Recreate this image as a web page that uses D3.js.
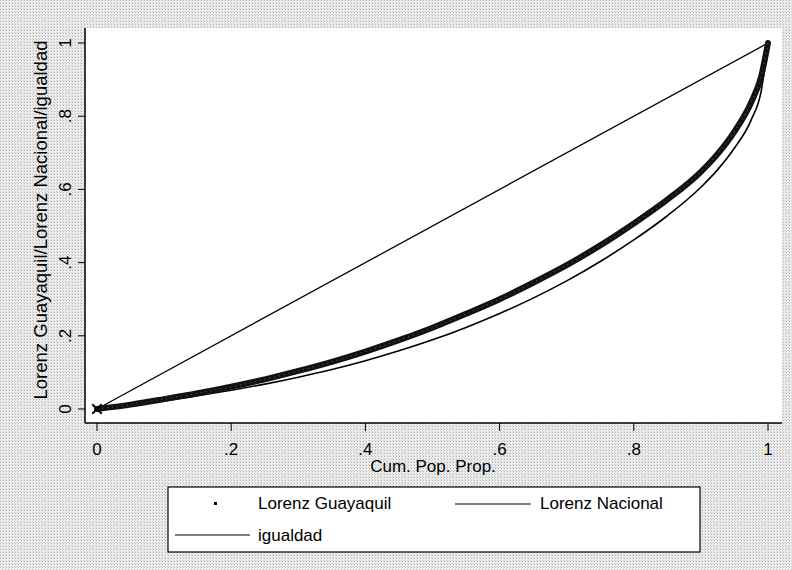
<!DOCTYPE html>
<html>
<head>
<meta charset="utf-8">
<script src="https://cdn.jsdelivr.net/npm/d3@7"></script>
<style>
  body { margin: 0; background: #fff; }
  svg text { font-family: "Liberation Sans", Arial, Helvetica, sans-serif; fill: #000; }
</style>
</head>
<body>
<div id="chart"></div>
<script>
// cumulative population share (x) and the two Lorenz curves
let popShare        = [0, .05, .1, .15, .2, .25, .3, .35, .4, .45, .5, .55, .6, .65, .7, .75, .8, .85, .9, .925, .95, .975, .99, 1];
let lorenzGuayaquil = [0, .012, .027, .043, .061, .081, .104, .129, .157, .188, .222, .26, .30, .345, .393, .447, .507, .572, .648, .697, .758, .838, .91, 1];
let lorenzNacional  = [0, .010, .022, .036, .051, .068, .087, .108, .132, .159, .189, .223, .261, .303, .35, .403, .462, .528, .606, .654, .713, .79, .87, 1];
let equalityX = [0, 1];
let equalityY = [0, 1];

let xTicks = [0, .2, .4, .6, .8, 1];
let yTicks = [0, .2, .4, .6, .8, 1];
let tickLabel = d => d === 0 ? "0" : d === 1 ? "1" : String(d).replace(/^0/, "");

let seriesNames = ["Lorenz Guayaquil", "Lorenz Nacional", "igualdad"];

let W = 792, H = 570;
let plot = {left: 85, right: 782, top: 28, bottom: 423};

let svg = d3.select("#chart").append("svg")
    .attr("width", W)
    .attr("height", H);

// halftone-ish grey background of the scanned page
let defs = svg.append("defs");
let pat = defs.append("pattern")
    .attr("id", "halftone")
    .attr("width", 3).attr("height", 3)
    .attr("patternUnits", "userSpaceOnUse");
pat.append("rect").attr("width", 3).attr("height", 3).attr("fill", "#ececec");
pat.append("rect").attr("width", 1).attr("height", 1).attr("fill", "#b0b0b0");
pat.append("rect").attr("x", 2).attr("y", 2).attr("width", 1).attr("height", 1).attr("fill", "#cccccc");

svg.append("rect")
    .attr("width", W).attr("height", H)
    .attr("fill", "url(#halftone)");

// white plot region
svg.append("rect")
    .attr("x", plot.left).attr("y", plot.top)
    .attr("width", plot.right - plot.left)
    .attr("height", plot.bottom - plot.top)
    .attr("fill", "#fff");

let x = d3.scaleLinear().domain([0, 1]).range([97, 768]);
let y = d3.scaleLinear().domain([0, 1]).range([409, 43]);

// axes lines
svg.append("line")
    .attr("x1", plot.left).attr("x2", plot.left)
    .attr("y1", plot.top).attr("y2", plot.bottom)
    .attr("stroke", "#000").attr("stroke-width", 1.5);
svg.append("line")
    .attr("x1", plot.left).attr("x2", plot.right)
    .attr("y1", plot.bottom).attr("y2", plot.bottom)
    .attr("stroke", "#000").attr("stroke-width", 1.5);

// x ticks
let xt = svg.append("g").selectAll("g")
    .data(xTicks)
    .enter().append("g")
    .attr("transform", d => "translate(" + x(d) + ",0)");
xt.append("line")
    .attr("y1", plot.bottom).attr("y2", plot.bottom + 8)
    .attr("stroke", "#000").attr("stroke-width", 1);
xt.append("text")
    .attr("y", plot.bottom + 32)
    .attr("text-anchor", "middle")
    .attr("font-size", 17)
    .text(tickLabel);

// y ticks (labels rotated like Stata)
let yt = svg.append("g").selectAll("g")
    .data(yTicks)
    .enter().append("g")
    .attr("transform", d => "translate(0," + y(d) + ")");
yt.append("line")
    .attr("x1", plot.left - 7).attr("x2", plot.left)
    .attr("stroke", "#000").attr("stroke-width", 1);
yt.append("text")
    .attr("transform", "translate(71,0) rotate(-90)")
    .attr("text-anchor", "middle")
    .attr("font-size", 17)
    .text(tickLabel);

// axis titles
svg.append("text")
    .attr("x", 433).attr("y", 472)
    .attr("text-anchor", "middle")
    .attr("font-size", 17)
    .text("Cum. Pop. Prop.");
svg.append("text")
    .attr("transform", "translate(47,220) rotate(-90)")
    .attr("text-anchor", "middle")
    .attr("font-size", 18.5)
    .text("Lorenz Guayaquil/Lorenz Nacional/igualdad");

// series
let lineGen = d3.line()
    .x(d => x(d[0]))
    .y(d => y(d[1]))
    .curve(d3.curveMonotoneX);

let eqData = equalityX.map((v, i) => [v, equalityY[i]]);
let nacData = popShare.map((v, i) => [v, lorenzNacional[i]]);
let guaData = popShare.map((v, i) => [v, lorenzGuayaquil[i]]);

svg.append("path")
    .datum(eqData)
    .attr("d", lineGen)
    .attr("fill", "none")
    .attr("stroke", "#000")
    .attr("stroke-width", 1.3);

svg.append("path")
    .datum(nacData)
    .attr("d", lineGen)
    .attr("fill", "none")
    .attr("stroke", "#000")
    .attr("stroke-width", 1.6);

// Guayaquil: dense tiny markers give a thick grainy band
svg.append("path")
    .datum(guaData)
    .attr("d", lineGen)
    .attr("fill", "none")
    .attr("stroke", "#111")
    .attr("stroke-width", 6)
    .attr("stroke-linecap", "round");
svg.append("path")
    .datum(guaData)
    .attr("d", lineGen)
    .attr("fill", "none")
    .attr("stroke", "#555")
    .attr("stroke-width", 1.2)
    .attr("stroke-dasharray", "1,4");

svg.append("path")
    .attr("transform", "translate(" + x(0) + "," + y(0) + ")")
    .attr("d", d3.symbol().type(d3.symbolX).size(60)())
    .attr("fill", "none")
    .attr("stroke", "#000")
    .attr("stroke-width", 2);

// legend
let lg = svg.append("g");
lg.append("rect")
    .attr("x", 168).attr("y", 487)
    .attr("width", 532).attr("height", 65)
    .attr("fill", "#fff")
    .attr("stroke", "#000")
    .attr("stroke-width", 1.2);

lg.append("rect")
    .attr("x", 214).attr("y", 502)
    .attr("width", 3).attr("height", 3)
    .attr("fill", "#000");
lg.append("text")
    .attr("x", 258).attr("y", 509)
    .attr("font-size", 17)
    .text(seriesNames[0]);

lg.append("line")
    .attr("x1", 455).attr("x2", 531)
    .attr("y1", 504).attr("y2", 504)
    .attr("stroke", "#000").attr("stroke-width", 1.2);
lg.append("text")
    .attr("x", 540).attr("y", 509)
    .attr("font-size", 17)
    .text(seriesNames[1]);

lg.append("line")
    .attr("x1", 175).attr("x2", 250)
    .attr("y1", 535).attr("y2", 535)
    .attr("stroke", "#000").attr("stroke-width", 1.2);
lg.append("text")
    .attr("x", 258).attr("y", 541)
    .attr("font-size", 17)
    .text(seriesNames[2]);
</script>
</body>
</html>
